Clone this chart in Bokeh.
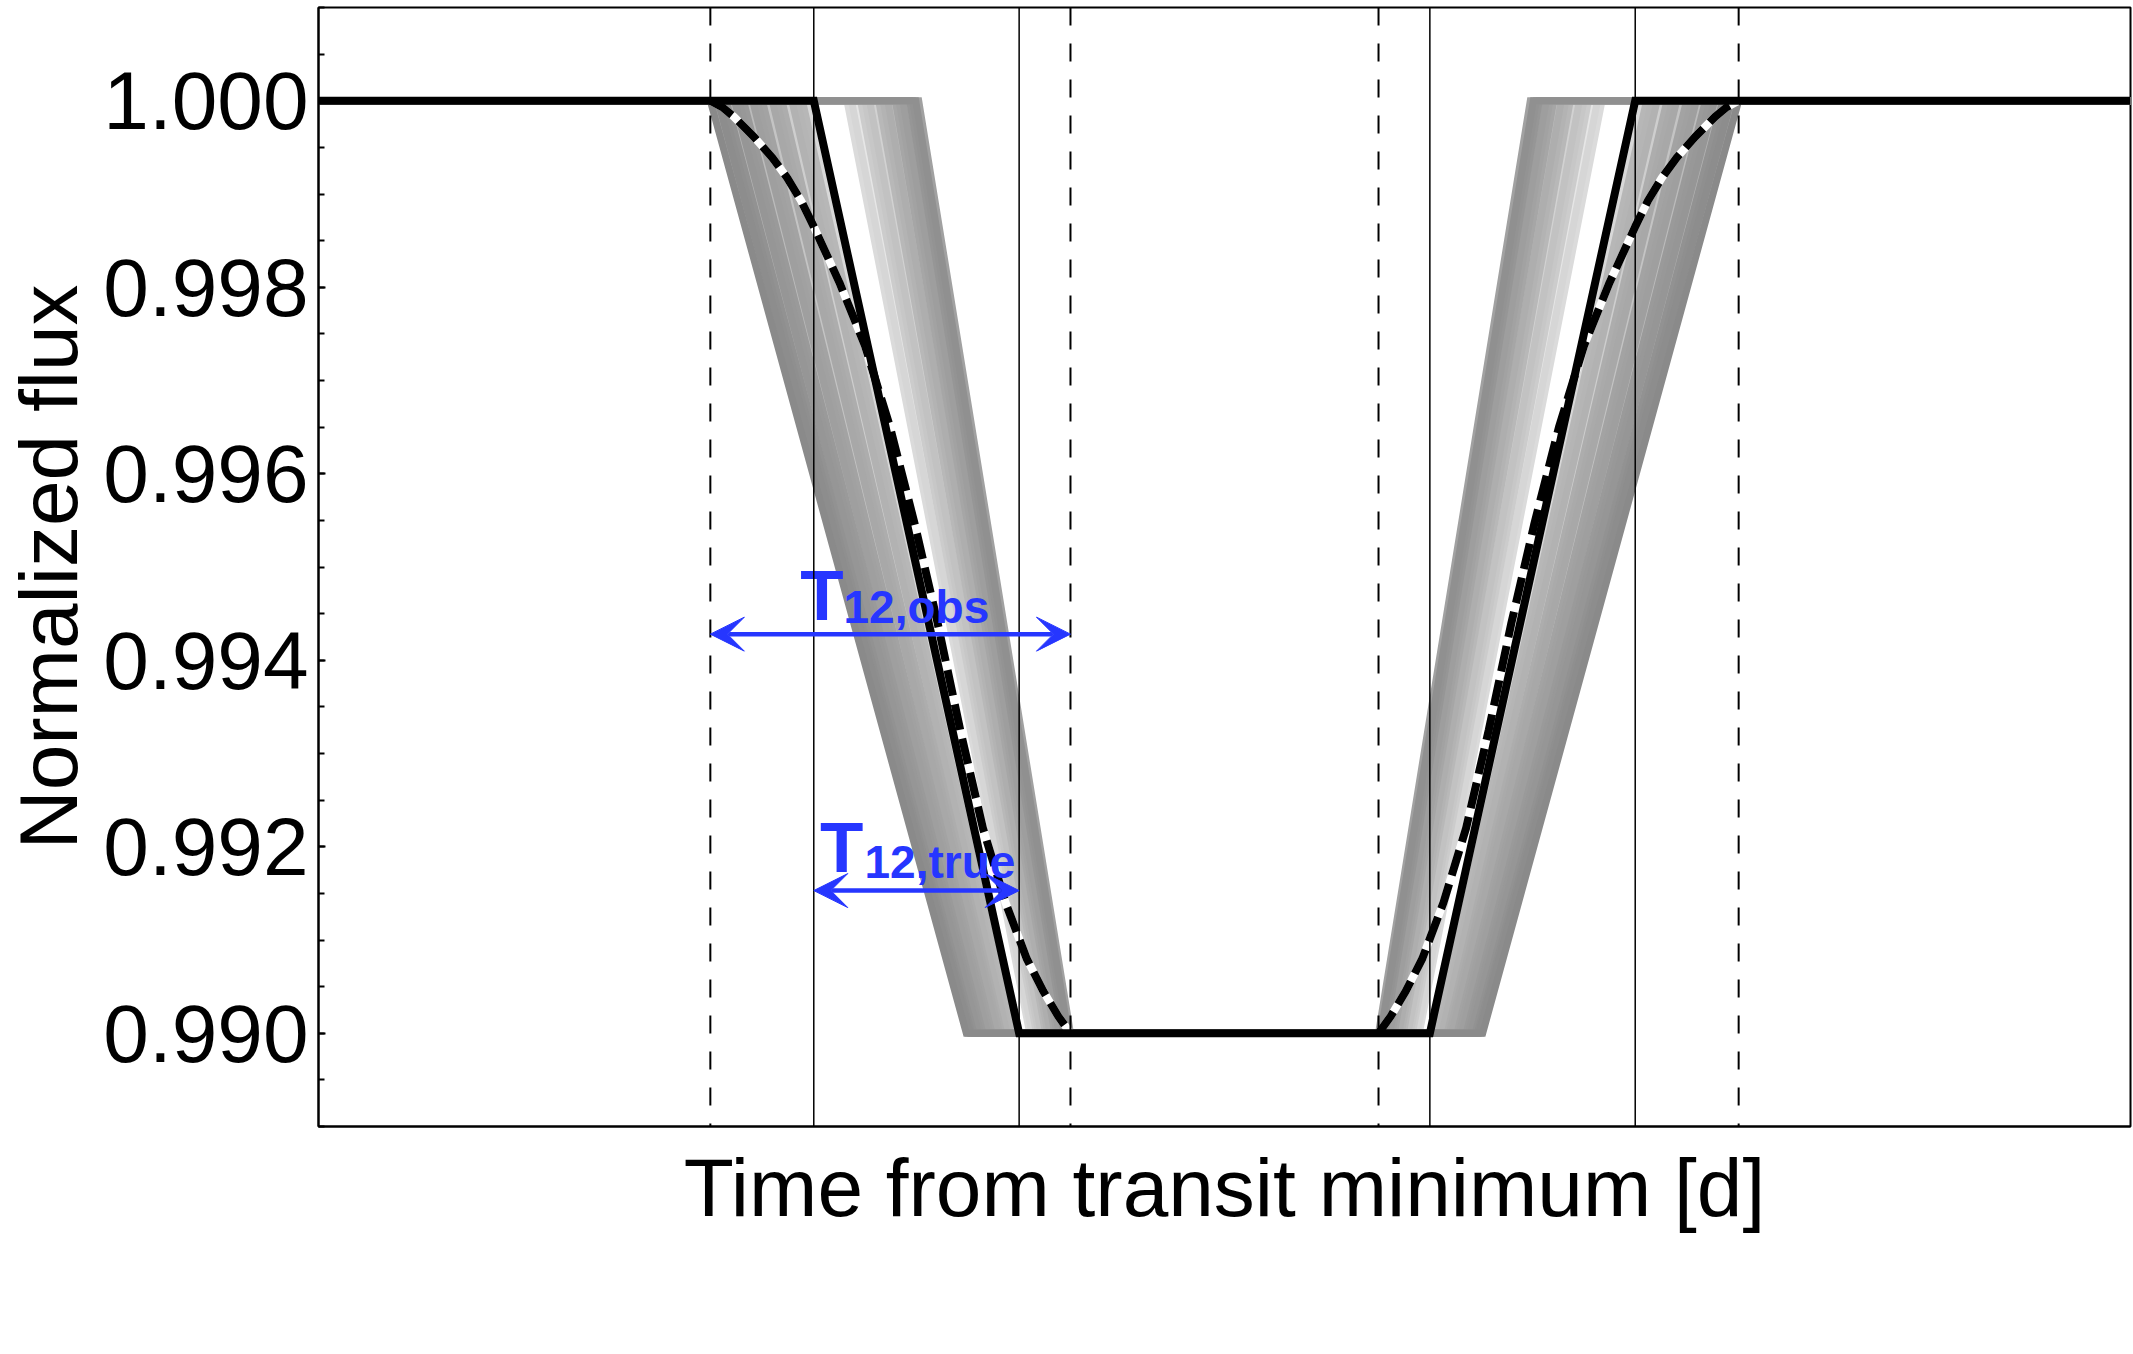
from bokeh.plotting import figure
from bokeh.models import (Range1d, SingleIntervalTicker, FixedTicker, NumeralTickFormatter,
                          Span, Arrow, VeeHead)
from bokeh.core.properties import value
from bokeh.embed import file_html
from bokeh.resources import INLINE

# ---------------- data (time in days from transit minimum, normalized flux) -------------
y_major_interval = 0.002
y_label = "Normalized flux"
x_label = "Time from transit minimum [d]"

# true (instantaneous) trapezoid model
true_time = [-0.12, -0.0544, -0.0272, 0.0272, 0.0544, 0.12]
true_flux = [1.000, 1.000, 0.990, 0.990, 1.000, 1.000]

# observed (smeared) model, ingress and egress parts
obs_ingress_time = [-0.0681, -0.0665, -0.0650, -0.0623, -0.0599, -0.0579, -0.0561, -0.0544,
                    -0.0510, -0.0476, -0.0443, -0.0410, -0.0380, -0.0350, -0.0320, -0.0290,
                    -0.0262, -0.0240, -0.0220, -0.0204]
obs_ingress_flux = [1.00000, 0.99993, 0.99983, 0.99961, 0.99939, 0.99917, 0.99893, 0.99865,
                    0.99805, 0.99737, 0.99650, 0.99545, 0.99440, 0.99325, 0.99220, 0.99140,
                    0.99080, 0.99045, 0.99018, 0.99000]
obs_egress_time = [0.0204, 0.0220, 0.0240, 0.0262, 0.0290, 0.0320, 0.0350, 0.0380, 0.0410,
                   0.0443, 0.0476, 0.0510, 0.0544, 0.0561, 0.0579, 0.0599, 0.0623, 0.0650,
                   0.0665, 0.0681]
obs_egress_flux = [0.99000, 0.99018, 0.99045, 0.99080, 0.99140, 0.99220, 0.99325, 0.99440,
                   0.99545, 0.99650, 0.99737, 0.99805, 0.99865, 0.99893, 0.99917, 0.99939,
                   0.99961, 0.99983, 0.99993, 1.00000]

# posterior trapezoid samples: half T14 and half T23 (days)
samples_long_t14 = [0.0681, 0.0676, 0.0671, 0.0666, 0.0660, 0.0655, 0.0649, 0.0643, 0.0637,
                    0.0631, 0.0625, 0.0619, 0.0612, 0.0606, 0.0599, 0.0593, 0.0586, 0.0580,
                    0.0573, 0.0566, 0.0559, 0.0552]
samples_long_t23 = [0.0342, 0.0340, 0.0337, 0.0335, 0.0332, 0.0329, 0.0326, 0.0323, 0.0320,
                    0.0317, 0.0314, 0.0311, 0.0308, 0.0305, 0.0301, 0.0298, 0.0295, 0.0292,
                    0.0288, 0.0285, 0.0281, 0.0278]
samples_short_t14 = [0.0500, 0.0494, 0.0488, 0.0482, 0.0476, 0.0470, 0.0464, 0.0458, 0.0452,
                     0.0446, 0.0441, 0.0436, 0.0431, 0.0426, 0.0421, 0.0417, 0.0413, 0.0409,
                     0.0405]
samples_short_t23 = [0.0258, 0.0255, 0.0252, 0.0249, 0.0246, 0.0243, 0.0240, 0.0237, 0.0234,
                     0.0231, 0.0228, 0.0225, 0.0222, 0.0219, 0.0216, 0.0213, 0.0210, 0.0207,
                     0.0204]
true_t14_half = 0.0544

# contact times
contacts_obs = [-0.0681, -0.0204, 0.0204, 0.0681]
contacts_true = [-0.0544, -0.0272, 0.0272, 0.0544]

# annotation values
t12_obs_span = (-0.0681, -0.0204)
t12_obs_flux = 0.99428
t12_true_span = (-0.0544, -0.0272)
t12_true_flux = 0.99153
label_main = ["T", "T"]
label_main_x = [-0.0562, -0.05358]
label_main_y = [0.99469, 0.99199]
label_sub = ["12,obs", "12,true"]
label_sub_x = [-0.05046, -0.04768]
label_sub_y = [0.99457, 0.99184]

# ---------------- figure -------------------------------------------------------------
FONT = "Liberation Sans"
BLUE = "#2636FF"

p = figure(width=2132, height=1350,
           x_range=Range1d(-0.12, 0.12), y_range=Range1d(0.989, 1.001),
           output_backend="svg", toolbar_location=None,
           min_border_left=318, min_border_right=2, min_border_top=7, min_border_bottom=224,
           background_fill_color="white", border_fill_color="white")
p.xgrid.visible = False
p.ygrid.visible = False
p.outline_line_color = "black"
p.outline_line_width = 2
p.outline_line_alpha = 1.0

# y axis
ya = p.yaxis[0]
ya.ticker = SingleIntervalTicker(interval=y_major_interval, num_minor_ticks=4)
ya.formatter = NumeralTickFormatter(format="0.000")
ya.major_tick_in = 7
ya.major_tick_out = 0
ya.minor_tick_in = 6
ya.minor_tick_out = 0
ya.major_tick_line_width = 2
ya.minor_tick_line_width = 2
ya.major_tick_line_color = "black"
ya.minor_tick_line_color = "black"
ya.axis_line_width = 2
ya.axis_line_color = "black"
ya.major_label_text_font = FONT
ya.major_label_text_font_size = "82px"
ya.major_label_text_color = "black"
ya.major_label_standoff = 10
ya.axis_label = y_label
ya.axis_label_text_font = FONT
ya.axis_label_text_font_size = "82px"
ya.axis_label_text_font_style = "normal"
ya.axis_label_text_color = "black"
ya.axis_label_standoff = 6

# x axis (no ticks)
xa = p.xaxis[0]
xa.ticker = FixedTicker(ticks=[])
xa.major_tick_in = 0
xa.major_tick_out = 0
xa.minor_tick_in = 0
xa.minor_tick_out = 0
xa.major_label_standoff = 0
xa.axis_line_width = 2
xa.axis_line_color = "black"
xa.axis_label = x_label
xa.axis_label_text_font = FONT
xa.axis_label_text_font_size = "82px"
xa.axis_label_text_font_style = "normal"
xa.axis_label_text_color = "black"
xa.axis_label_standoff = 15

# ---------------- gray posterior samples ---------------------------------------------
def shade(level):
    v = int(round(255 * level))
    return "#%02x%02x%02x" % (v, v, v)

entries = []
dmax_long = max(abs(a - true_t14_half) for a in samples_long_t14)
for i, (a, b) in enumerate(zip(samples_long_t14, samples_long_t23)):
    d = abs(a - true_t14_half) / dmax_long
    lev = 0.54 + 0.20 * (1 - d) + (0.12 if i % 4 == 1 else 0.0)
    entries.append((lev, a, b))
dmax_short = max(abs(a - true_t14_half) for a in samples_short_t14)
for i, (a, b) in enumerate(zip(samples_short_t14, samples_short_t23)):
    d = (abs(a - true_t14_half) - 0.0044) / (dmax_short - 0.0044)
    lev = 0.55 + 0.31 * (1 - d) + (0.08 if i % 4 == 2 else 0.0)
    entries.append((min(lev, 0.92), a, b))
entries.sort(key=lambda e: -e[0])

g_xs, g_ys, g_cols = [], [], []
for lev, a, b in entries:
    g_xs.append([-0.12, -a, -b, b, a, 0.12])
    g_ys.append([1.0, 1.0, 0.99, 0.99, 1.0, 1.0])
    g_cols.append(shade(lev))
p.multi_line(xs=g_xs, ys=g_ys, line_color=g_cols, line_width=7, line_join="miter")

# ---------------- contact lines ------------------------------------------------------
for c in contacts_obs:
    p.add_layout(Span(location=c, dimension="height", line_color="black",
                      line_width=2, line_dash="18 18"))
for c in contacts_true:
    p.add_layout(Span(location=c, dimension="height", line_color="black", line_width=1.5))

# ---------------- models -------------------------------------------------------------
p.line(obs_ingress_time, obs_ingress_flux, line_color="white", line_width=8)
p.line(obs_egress_time, obs_egress_flux, line_color="white", line_width=8)
p.line(true_time, true_flux, line_color="black", line_width=8, line_join="miter")
p.line(obs_ingress_time, obs_ingress_flux, line_color="black", line_width=8, line_dash="26 9")
p.line(obs_egress_time, obs_egress_flux, line_color="black", line_width=8, line_dash="26 9")

# ---------------- annotations --------------------------------------------------------
for (x0, x1), yv in ((t12_obs_span, t12_obs_flux), (t12_true_span, t12_true_flux)):
    p.add_layout(Arrow(x_start=x0, y_start=yv, x_end=x1, y_end=yv,
                       line_color=BLUE, line_width=4.5,
                       start=VeeHead(size=34, fill_color=BLUE, line_color=BLUE, line_width=1),
                       end=VeeHead(size=34, fill_color=BLUE, line_color=BLUE, line_width=1)))

p.text(x=label_main_x, y=label_main_y, text=label_main, text_font=value(FONT),
       text_font_size=value("71px"), text_font_style="bold", text_color=BLUE,
       text_baseline="middle", text_align="left")
p.text(x=label_sub_x, y=label_sub_y, text=label_sub, text_font=value(FONT),
       text_font_size=value("46px"), text_font_style="bold", text_color=BLUE,
       text_baseline="middle", text_align="left")

open("out.html", "w").write(file_html(p, INLINE))
